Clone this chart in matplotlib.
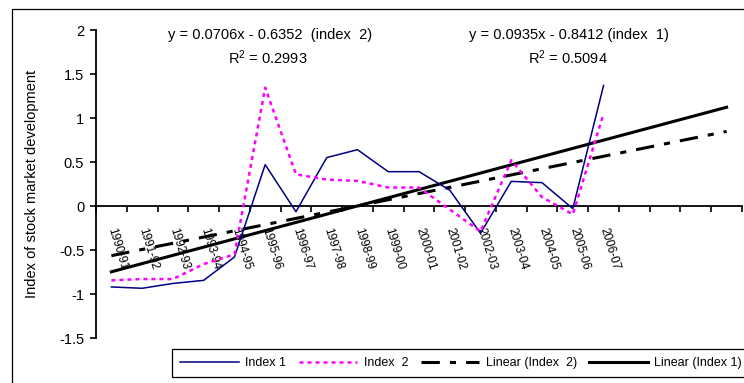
import numpy as np
import matplotlib
matplotlib.use("Agg")
import matplotlib.pyplot as plt
from matplotlib.lines import Line2D
from matplotlib.patches import Rectangle

plt.rcParams['font.family'] = ['Liberation Sans', 'DejaVu Sans']
plt.rcParams['mathtext.fontset'] = 'custom'
plt.rcParams['mathtext.rm'] = 'Liberation Sans'
plt.rcParams['mathtext.default'] = 'regular'

years = ['1990-91', '1991-92', '1992-93', '1993-94', '1994-95', '1995-96', '1996-97',
         '1997-98', '1998-99', '1999-00', '2000-01', '2001-02', '2002-03', '2003-04',
         '2004-05', '2005-06', '2006-07']
index1 = [-0.92, -0.935, -0.88, -0.845, -0.58, 0.47, -0.065, 0.55, 0.64, 0.39, 0.39,
          0.18, -0.31, 0.28, 0.265, -0.03, 1.37]
index2 = [-0.845, -0.83, -0.83, -0.66, -0.55, 1.345, 0.36, 0.30, 0.285, 0.21, 0.21,
          -0.04, -0.29, 0.52, 0.10, -0.095, 1.05]

# trendline equations as printed on the chart (forecast 4 periods ahead)
slope1, icept1, r2_1 = 0.0935, -0.8412, 0.5094
slope2, icept2, r2_2 = 0.0706, -0.6352, 0.2993
n_periods = len(years) + 4

W, H = 744, 383
fig = plt.figure(figsize=(W / 100, H / 100), dpi=100)
ax = fig.add_axes([96 / W, 1 - 338 / H, (742 - 96) / W, (338 - 30) / H])
ax.patch.set_alpha(0)

# spine position first: it resets the tick setup
ax.spines['top'].set_visible(False)
ax.spines['right'].set_visible(False)
ax.spines['bottom'].set_position(('data', 0))
ax.spines['bottom'].set_linewidth(1.3)
ax.spines['left'].set_linewidth(1.3)

x = np.arange(1, len(years) + 1)
xt = np.arange(1, n_periods + 1)

ax.plot(xt, slope2 * xt + icept2, color='black', lw=2.2, ls=(0, (6, 3.3, 2, 3.3)), zorder=2)
ax.plot(xt, slope1 * xt + icept1, color='black', lw=2.2, zorder=2)
ax.plot(x, index1, color='#000080', lw=1.1, zorder=3)
ax.plot(x, index2, color='#FF00FF', lw=1.8, ls=(0, (1.6, 1.6)), zorder=3)

ax.set_xlim(0.5, n_periods + 0.5)
ax.set_ylim(-1.5, 2)
ax.set_yticks(np.arange(-1.5, 2.01, 0.5))
ax.set_yticklabels(['-1.5', '-1', '-0.5', '0', '0.5', '1', '1.5', '2'], fontsize=10.5)
ax.tick_params(axis='y', direction='out', length=4.5, width=1.2, pad=4)

ax.set_xticks(x)
ax.set_xticklabels(years, fontsize=8.5, rotation=-73, rotation_mode='anchor',
                   ha='left', va='center')
ax.tick_params(axis='x', which='major', length=0, pad=16)
ax.set_xticks(np.arange(0.5, n_periods + 1, 1), minor=True)
ax.tick_params(axis='x', which='minor', direction='out', length=4.5, width=1.2)

ax.set_ylabel('Index of stock market development', fontsize=10.5)
ax.yaxis.set_label_coords(-57 / (742 - 96), 0.5)

fig.text(270 / W, 1 - 35 / H, 'y = %.4fx - %.4f  (index  2)' % (slope2, -icept2),
         fontsize=10.5, ha='center', va='center')
fig.text(268 / W, 1 - 58 / H, 'R$^2$ = %.4f' % r2_2, fontsize=10.5, ha='center', va='center')
fig.text(569 / W, 1 - 35 / H, 'y = %.4fx - %.4f (index  1)' % (slope1, -icept1),
         fontsize=10.5, ha='center', va='center')
fig.text(568 / W, 1 - 58 / H, 'R$^2$ = %.4f' % r2_1, fontsize=10.5, ha='center', va='center')

# chart border
fig.patches.append(Rectangle((12 / W, -0.2), 1.2, 1.2 - 9 / H, transform=fig.transFigure,
                             fill=False, edgecolor='black', lw=0.9))

handles = [
    Line2D([], [], color='#000080', lw=1.1),
    Line2D([], [], color='#FF00FF', lw=1.8, ls=(0, (1.6, 1.6))),
    Line2D([], [], color='black', lw=2.2, ls=(0, (6, 3.3, 2, 3.3))),
    Line2D([], [], color='black', lw=2.2),
]
labels = ['Index 1', 'Index  2', 'Linear (Index  2)', 'Linear (Index 1)']
leg = fig.legend(handles, labels, loc='upper left', bbox_to_anchor=(172 / W, 1 - 349 / H),
                 ncol=4, fontsize=9, frameon=True, fancybox=False, edgecolor='black',
                 framealpha=1, handlelength=4.7, handletextpad=0.5, columnspacing=1.0,
                 borderpad=0.65, borderaxespad=0)
leg.get_frame().set_linewidth(0.9)

fig.savefig('out.png', dpi=100)
